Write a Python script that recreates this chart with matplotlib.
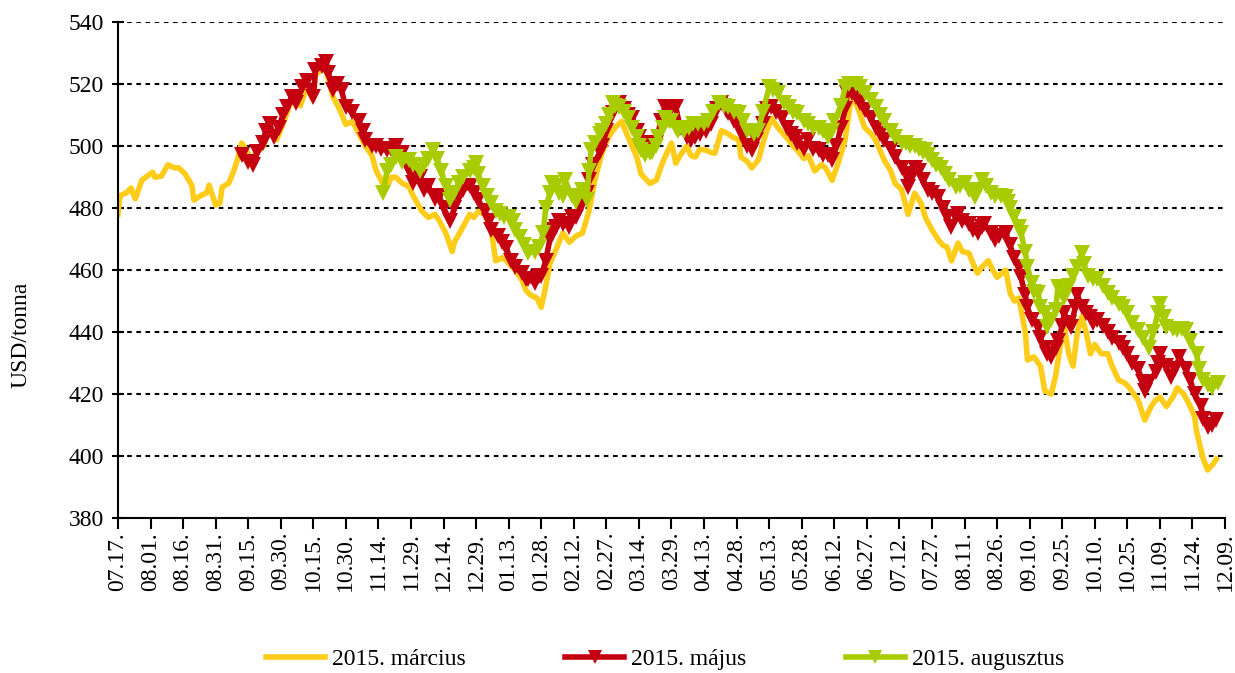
import matplotlib
matplotlib.use("Agg")
import matplotlib.pyplot as plt
import matplotlib.dates as mdates
import pandas as pd

# --------------------------------------------------------
# Data (days counted from 2013-07-17, price in USD/tonna)
# --------------------------------------------------------

START = "2013-07-17"
END = "2014-12-09"

march_days = [
    0, 1, 4, 6, 8, 11, 16, 17, 20, 23, 26, 28, 31, 34, 35, 38, 41, 42, 45, 47,
    48, 51, 53, 55, 57, 59, 62, 64, 67, 70, 73, 76, 78, 80, 84, 87, 90, 91, 94, 96,
    99, 102, 105, 108, 111, 114, 117, 119, 122, 124, 126, 128, 131, 134, 136, 140,
    143, 146, 148, 151, 154, 155, 159, 162, 164, 166, 169, 172, 174, 177, 179, 183,
    186, 188, 190, 193, 195, 197, 199, 202, 205, 208, 211, 214, 217, 220, 223, 226,
    229, 232, 235, 239, 241, 245, 248, 250, 252, 255, 257, 259, 262, 264, 266, 268,
    271, 273, 275, 278, 281, 283, 286, 287, 290, 292, 295, 298, 301, 304, 309, 311,
    313, 316, 318, 321, 324, 326, 329, 332, 335, 338, 341, 344, 347, 349, 353, 356,
    358, 361, 364, 367, 370, 372, 375, 378, 380, 382, 384, 387, 389, 392, 394, 396,
    398, 401, 403, 405, 409, 411, 413, 415, 418, 419, 422, 425, 427, 430, 432, 434,
    436, 438, 440, 442, 444, 446, 448, 450, 453, 456, 458, 461, 464, 466, 470, 473,
    476, 478, 480, 483, 486, 488, 491, 494, 496, 497, 500, 502, 504, 506,
]
march_usd = [
    478, 484, 485, 486.5, 483, 489, 491.6, 490, 490.3, 494, 493, 493, 491, 487.4, 482.6, 484, 485, 487.4, 481, 481.6,
    486.8, 488, 491.3, 495.5, 501, 499, 495, 498, 500, 506, 502, 507, 511, 515, 513, 519, 515, 523, 525, 524,
    516, 512, 507, 508, 504, 500, 497, 492, 488, 487, 490, 490, 488, 487, 484, 479,
    477, 478, 476, 472, 466, 469, 474, 478, 477, 479, 478, 473, 463, 464, 463, 460,
    457, 453.5, 452, 451, 448, 454.5, 462, 467, 472, 469, 471, 472, 479, 490, 497.7, 503,
    506, 508, 503, 496.5, 491, 488, 489, 493, 496.5, 501, 494.5, 497, 500, 497, 496.5, 499,
    498.7, 498, 497.7, 505, 504, 503, 502, 496.5, 495, 493, 495.5, 503, 509, 506, 502, 500,
    498.7, 496, 497, 492, 494, 493, 489, 495, 502, 517, 512, 506, 504, 502, 495.5, 492,
    488, 486, 478, 484.8, 481.6, 477, 473, 469.7, 468, 467.4, 463, 468.7, 466, 465.5, 462, 459,
    461, 463, 460, 457.7, 460, 452.6, 450, 451, 440, 431, 432, 429, 421, 420, 426, 435,
    441.6, 433, 429, 440, 445, 440, 433, 436, 433, 433, 429, 424.5, 423.5, 422, 418, 411.6,
    416, 418, 419, 416, 419, 422, 420, 416, 412.6, 407.6, 399, 395.5, 397, 399,
]

may_days = [
    57, 60, 62, 64, 67, 68, 70, 72, 74, 76, 78, 80, 82, 85, 87, 90, 91, 94, 96, 97,
    99, 101, 103, 105, 108, 111, 113, 114, 117, 119, 121, 124, 126, 128, 131, 133, 135, 136, 139, 141,
    143, 146, 148, 150, 153, 155, 157, 159, 162, 164, 166, 169, 171, 172, 175, 177, 179, 181, 183, 186,
    188, 189, 192, 194, 195, 197, 199, 200, 202, 203, 205, 208, 209, 211, 213, 216, 217, 219, 222, 223,
    225, 228, 229, 231, 233, 235, 237, 239, 240, 241, 243, 245, 248, 250, 252, 255, 257, 259, 262, 264,
    266, 268, 271, 273, 276, 278, 280, 281, 284, 286, 288, 290, 292, 294, 297, 299, 301, 303, 306, 308,
    310, 312, 313, 316, 318, 320, 323, 325, 327, 329, 331, 333, 335, 336, 338, 340, 342, 344, 347, 349,
    351, 353, 356, 358, 361, 363, 364, 365, 367, 369, 371, 373, 375, 378, 380, 382, 384, 386, 387, 389,
    392, 394, 396, 398, 399, 402, 404, 406, 409, 411, 413, 415, 416, 418, 419, 421, 424, 425, 427, 428,
    430, 432, 433, 435, 436, 438, 439, 441, 442, 444, 446, 448, 449, 451, 454, 456, 458, 461, 463, 465,
    467, 470, 472, 473, 475, 478, 479, 480, 483, 485, 487, 489, 492, 494, 496, 499, 500, 502, 504, 506,
]
may_usd = [
    497, 495, 494, 498, 501, 505, 507, 503, 506, 510, 512.6, 516, 514, 519, 521, 516, 524.5, 526, 527, 523.5,
    518, 520, 518, 512.6, 511, 508, 505, 502, 500, 500, 499, 498.7, 499, 500, 497.7, 494, 491, 488, 490, 486,
    487, 483, 484, 480, 476, 480, 484, 486, 487, 485, 482.6, 479, 476, 473, 471, 469, 467, 463, 461, 459,
    457, 457, 456, 458, 458, 463, 470, 473, 474, 476, 475, 474, 477, 477, 480, 485, 489, 494, 498, 500,
    505, 510.6, 513, 514, 512, 510, 509, 505, 503, 501, 501, 500, 501, 508, 512.6, 512, 512.6, 506, 503, 502,
    503, 504, 505, 507, 512, 514, 511.6, 510.6, 508, 506, 503, 500, 498.7, 502, 507, 512, 512.6, 511, 509, 506,
    504, 503, 501, 499, 502, 499, 498.7, 497, 497, 495.5, 500, 506, 512, 517, 517, 516, 514, 511.6, 509, 506,
    504, 502, 499, 496.5, 493, 491, 486.8, 489, 493, 492, 489, 486, 485, 483.5, 480, 477, 474, 477, 478, 476,
    475, 473, 472, 474, 475, 472, 469.7, 471, 472, 468, 464, 461, 457.7, 452, 448, 444, 441.6, 438, 435, 433,
    432, 435, 437, 442, 446, 443, 441.6, 448, 452, 448, 446, 445, 443, 444, 442, 440, 438, 436.5, 435, 433,
    430, 428, 424, 421, 424, 427, 430, 433, 429, 425.5, 428, 432, 428, 424.5, 420, 416, 412, 409.5, 410, 411.6,
]

aug_days = [
    122, 124, 126, 128, 131, 134, 136, 139, 141, 143, 145, 147, 149, 151, 153, 155, 157, 159, 162, 164,
    165, 166, 168, 170, 172, 174, 176, 178, 180, 182, 183, 185, 187, 189, 192, 194, 196, 197, 199, 200,
    202, 203, 205, 206, 209, 211, 212, 214, 216, 217, 218, 220, 222, 223, 225, 226, 228, 229, 231, 233,
    235, 237, 239, 240, 241, 243, 245, 246, 248, 249, 251, 252, 254, 255, 257, 258, 261, 263, 265, 267,
    270, 272, 274, 277, 279, 281, 284, 286, 288, 290, 293, 295, 297, 300, 302, 304, 307, 309, 311, 313,
    316, 318, 320, 323, 325, 327, 329, 330, 333, 335, 337, 340, 342, 344, 347, 349, 351, 353, 356, 358,
    361, 363, 365, 367, 369, 371, 372, 373, 375, 377, 379, 381, 383, 386, 388, 390, 392, 395, 396, 398,
    400, 402, 404, 407, 409, 410, 411, 413, 415, 416, 418, 419, 421, 422, 424, 425, 427, 428, 430, 432,
    433, 435, 436, 438, 440, 442, 444, 445, 447, 449, 451, 454, 456, 458, 461, 463, 465, 467, 470, 472,
    475, 477, 479, 480, 482, 483, 486, 488, 490, 492, 494, 497, 498, 500, 502, 504, 507,
]
aug_usd = [
    485, 492, 494, 496.5, 495, 495.5, 494, 492, 494, 496, 498.7, 496, 492, 487, 482.6, 485, 488, 490, 492, 493,
    494.5, 491, 487, 484, 481.6, 479, 478, 477, 477, 476, 473, 470.6, 468, 465.5, 466, 467.4, 472, 480, 485, 488,
    487, 485, 484, 489, 484, 482, 484, 486, 482.6, 492, 498.7, 501, 504, 505, 507, 510, 514, 513, 512.6, 511,
    509, 506, 503, 500, 498.7, 497, 497.7, 498, 500, 503, 506, 509, 508, 508, 506, 505, 505, 506, 507, 507,
    507, 508, 511, 514, 513, 512.6, 511, 510.6, 508, 505, 504, 505, 511, 519, 518, 517, 514, 512.6, 511, 510.6,
    508, 507, 506, 506, 505, 503, 505, 508, 513, 519, 520, 520, 519, 517, 515, 512.6, 510, 508, 505, 503,
    501, 501, 500, 500, 499, 498, 498.7, 497, 495.5, 494, 493, 491, 489, 486.8, 487, 488, 486, 483.5, 486, 489,
    487, 485, 484, 484, 483.5, 482, 480, 477, 474, 472, 466, 461, 456, 453, 452.6, 448, 446, 441.6, 444, 447,
    454.5, 453, 451, 455, 458, 461, 465.5, 462, 458, 457, 457, 455, 452.6, 451, 449, 448, 446, 443, 440.6, 438,
    435, 440, 446, 449, 445, 441.6, 441, 440.6, 441, 440.6, 437, 433, 428, 424.5, 423, 422, 423.5,
]

SERIES = [
    ("2015. március", march_days, march_usd, "#FFCC1A", None),
    ("2015. május", may_days, may_usd, "#C40010", "v"),
    ("2015. augusztus", aug_days, aug_usd, "#A8CC00", "v"),
]

FONT_SIZE = 17


def to_dates(days):
    return pd.Timestamp(START) + pd.to_timedelta(days, unit="D")


def main():

    plt.rcParams["font.family"] = ["Liberation Serif", "DejaVu Serif"]

    fig = plt.figure(figsize=(12.35, 6.73), dpi=100)
    ax = fig.add_axes([0.0955, 0.2303, 0.8964, 0.7367])

    for label, days, usd, color, marker in SERIES:
        ax.plot(
            to_dates(days),
            usd,
            color=color,
            linewidth=4,
            marker=marker,
            markersize=11,
            markeredgewidth=0,
            label=label,
            solid_joinstyle="round",
        )

    # axes
    ax.set_xlim(pd.Timestamp(START), pd.Timestamp(END))
    ax.set_ylim(380, 540)
    ax.set_yticks(range(380, 541, 20))
    ax.set_xticks(pd.date_range(START, END, freq="15D"))
    ax.xaxis.set_major_formatter(mdates.DateFormatter("%m.%d."))
    ax.tick_params(axis="x", rotation=90, labelsize=FONT_SIZE, length=8, width=1.5,
                   direction="out", pad=2)
    ax.tick_params(axis="y", labelsize=FONT_SIZE, length=8, width=1.5,
                   direction="inout", pad=6)

    for side in ["top", "right"]:
        ax.spines[side].set_visible(False)
    for side in ["left", "bottom"]:
        ax.spines[side].set_linewidth(1.5)

    for val in range(400, 541, 20):
        ax.axhline(val, color="black", linewidth=1.5, linestyle=(0, (2.2, 2.2)), zorder=0)

    ax.set_ylabel("USD/tonna", fontsize=FONT_SIZE)
    ax.yaxis.set_label_coords(-0.078, 0.37)

    fig.legend(
        loc="center",
        bbox_to_anchor=(0.5385, 0.02),
        ncol=3,
        frameon=False,
        fontsize=FONT_SIZE,
        handlelength=2.5,
        handletextpad=0.3,
        columnspacing=4.2,
        markerscale=0.9,
    )

    fig.savefig("out.png", dpi=100)


if __name__ == "__main__":
    main()
